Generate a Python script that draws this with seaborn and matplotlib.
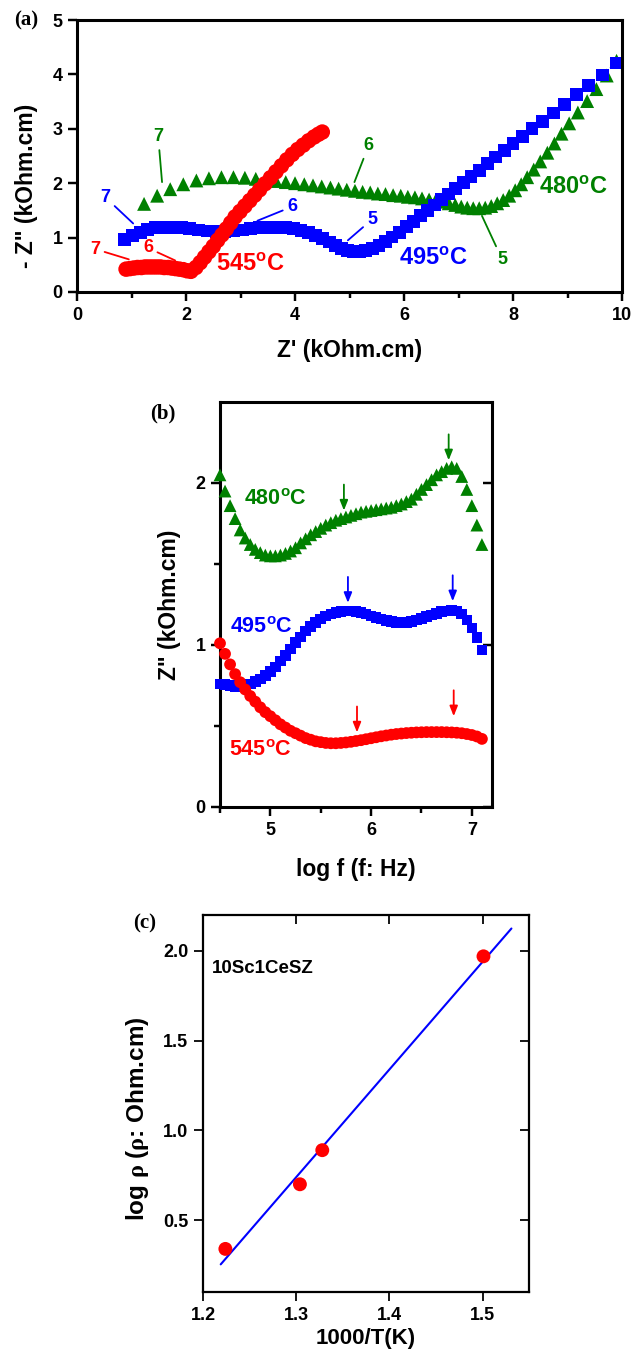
import numpy as np
import pandas as pd
import matplotlib
matplotlib.use("Agg")
import matplotlib.pyplot as plt
from matplotlib.ticker import MultipleLocator, FixedLocator
import seaborn as sns

# ---------------- data ----------------
# (a) Nyquist plots: Z' and -Z'' (kOhm.cm)
z1_480 = [1.23, 1.47, 1.71, 1.95, 2.19, 2.42, 2.65, 2.87, 3.08, 3.28, 3.47, 3.65, 3.83, 4.00,
          4.17, 4.33, 4.49, 4.65, 4.80, 4.95, 5.10, 5.24, 5.38, 5.52, 5.66, 5.80, 5.94, 6.07,
          6.20, 6.33, 6.46, 6.58, 6.70, 6.82, 6.94, 7.05, 7.16, 7.27, 7.38, 7.49, 7.60, 7.71,
          7.82, 7.93, 8.04, 8.15, 8.26, 8.38, 8.50, 8.63, 8.76, 8.89, 9.03, 9.19, 9.36, 9.53,
          9.72, 9.90]
z2_480 = [1.62, 1.77, 1.89, 1.98, 2.05, 2.09, 2.11, 2.11, 2.10, 2.08, 2.06, 2.04, 2.02, 2.00,
          1.98, 1.96, 1.94, 1.92, 1.90, 1.88, 1.86, 1.84, 1.83, 1.81, 1.80, 1.78, 1.77, 1.75,
          1.74, 1.72, 1.70, 1.68, 1.66, 1.63, 1.60, 1.57, 1.55, 1.54, 1.54, 1.55, 1.58, 1.63,
          1.69, 1.77, 1.87, 1.98, 2.11, 2.25, 2.40, 2.56, 2.73, 2.91, 3.10, 3.30, 3.51, 3.73,
          3.98, 4.25]

z1_495 = [0.87, 1.02, 1.16, 1.30, 1.44, 1.59, 1.75, 1.91, 2.07, 2.23, 2.39, 2.55, 2.71, 2.87,
          3.03, 3.19, 3.35, 3.51, 3.67, 3.82, 3.97, 4.11, 4.25, 4.38, 4.51, 4.63, 4.75, 4.86,
          4.97, 5.08, 5.19, 5.30, 5.42, 5.54, 5.66, 5.78, 5.91, 6.04, 6.17, 6.30, 6.43, 6.56,
          6.69, 6.82, 6.95, 7.09, 7.23, 7.38, 7.53, 7.68, 7.84, 8.00, 8.17, 8.35, 8.54, 8.74,
          8.94, 9.16, 9.39, 9.64, 9.89]
z2_495 = [0.97, 1.04, 1.10, 1.15, 1.18, 1.19, 1.19, 1.18, 1.16, 1.14, 1.12, 1.11, 1.11, 1.12,
          1.14, 1.16, 1.18, 1.19, 1.19, 1.18, 1.16, 1.13, 1.09, 1.04, 0.98, 0.92, 0.86, 0.80,
          0.76, 0.74, 0.74, 0.76, 0.80, 0.86, 0.93, 1.01, 1.10, 1.20, 1.30, 1.40, 1.50, 1.60,
          1.70, 1.80, 1.90, 2.01, 2.12, 2.24, 2.36, 2.48, 2.60, 2.73, 2.86, 3.00, 3.14, 3.29,
          3.45, 3.63, 3.80, 3.99, 4.21]

z1_545 = [0.90, 0.97, 1.04, 1.11, 1.18, 1.25, 1.32, 1.39, 1.46, 1.53, 1.60, 1.67, 1.74, 1.81,
          1.88, 1.95, 2.02, 2.09, 2.18, 2.26, 2.34, 2.42, 2.50, 2.58, 2.66, 2.74, 2.82, 2.90,
          2.99, 3.08, 3.17, 3.26, 3.35, 3.45, 3.55, 3.65, 3.75, 3.85, 3.95, 4.05, 4.15, 4.25,
          4.35, 4.43, 4.50]
z2_545 = [0.42, 0.43, 0.44, 0.45, 0.45, 0.46, 0.46, 0.46, 0.46, 0.46, 0.45, 0.45, 0.44, 0.43,
          0.42, 0.41, 0.39, 0.38, 0.45, 0.54, 0.64, 0.74, 0.84, 0.95, 1.05, 1.16, 1.27, 1.38,
          1.48, 1.58, 1.68, 1.78, 1.88, 1.99, 2.10, 2.21, 2.32, 2.43, 2.53, 2.62, 2.70, 2.78,
          2.85, 2.90, 2.94]

# (b) Bode plots: log f and Z'' (kOhm.cm)
logf = [4.50, 4.55, 4.60, 4.65, 4.70, 4.75, 4.80, 4.85, 4.90, 4.95, 5.00, 5.05, 5.10, 5.15,
        5.20, 5.25, 5.30, 5.35, 5.40, 5.45, 5.50, 5.55, 5.60, 5.65, 5.70, 5.75, 5.80, 5.85,
        5.90, 5.95, 6.00, 6.05, 6.10, 6.15, 6.20, 6.25, 6.30, 6.35, 6.40, 6.45, 6.50, 6.55,
        6.60, 6.65, 6.70, 6.75, 6.80, 6.85, 6.90, 6.95, 7.00, 7.05, 7.10]
zb_480 = [2.05, 1.95, 1.86, 1.78, 1.71, 1.66, 1.62, 1.59, 1.57, 1.555, 1.55, 1.55, 1.555, 1.565,
          1.58, 1.60, 1.63, 1.655, 1.68, 1.70, 1.72, 1.74, 1.755, 1.77, 1.78, 1.79, 1.80, 1.81,
          1.82, 1.825, 1.83, 1.835, 1.84, 1.845, 1.85, 1.86, 1.87, 1.885, 1.90, 1.93, 1.96, 1.99,
          2.02, 2.05, 2.07, 2.09, 2.10, 2.09, 2.04, 1.96, 1.86, 1.74, 1.62]
zb_495 = [0.76, 0.755, 0.75, 0.745, 0.745, 0.75, 0.76, 0.775, 0.79, 0.81, 0.835, 0.865, 0.90,
          0.935, 0.975, 1.015, 1.05, 1.085, 1.115, 1.14, 1.16, 1.18, 1.19, 1.20, 1.205, 1.21,
          1.21, 1.205, 1.20, 1.19, 1.18, 1.17, 1.16, 1.15, 1.145, 1.14, 1.14, 1.14, 1.145, 1.155,
          1.165, 1.175, 1.185, 1.195, 1.205, 1.21, 1.215, 1.21, 1.19, 1.155, 1.105, 1.045, 0.97]
zb_545 = [1.01, 0.945, 0.88, 0.82, 0.77, 0.725, 0.685, 0.65, 0.615, 0.585, 0.56, 0.535, 0.51,
          0.49, 0.47, 0.455, 0.44, 0.425, 0.415, 0.405, 0.40, 0.395, 0.393, 0.393, 0.395, 0.398,
          0.402, 0.407, 0.412, 0.418, 0.424, 0.43, 0.436, 0.441, 0.446, 0.45, 0.453, 0.456, 0.458,
          0.46, 0.461, 0.462, 0.462, 0.462, 0.462, 0.461, 0.46, 0.458, 0.455, 0.45, 0.444, 0.435,
          0.42]

# relaxation peak positions (log f, Z'') marked with arrows
peaks_480 = [(5.73, 1.82), (6.77, 2.13)]
peaks_495 = [(5.77, 1.25), (6.81, 1.26)]
peaks_545 = [(5.86, 0.45), (6.82, 0.55)]

# (c) Arrhenius plot
inv_T = [1.224, 1.304, 1.328, 1.501]
log_rho = [0.34, 0.70, 0.89, 1.97]
fit_range = [1.219, 1.531]

temps = ["480", "495", "545"]
colors = {"480": "#008000", "495": "#0000ff", "545": "#ff0000"}
markers = {"480": "^", "495": "s", "545": "o"}

# ---------------- style ----------------
sns.set_theme(style="ticks")
plt.rcParams.update({
    "font.family": ["Liberation Sans", "DejaVu Sans"],
    "font.weight": "bold",
    "axes.labelweight": "bold",
    "mathtext.fontset": "custom",
    "mathtext.rm": "Liberation Serif",
    "mathtext.bf": "Liberation Sans:bold",
    "mathtext.it": "Liberation Sans:italic",
    "axes.edgecolor": "black",
    "xtick.color": "black",
    "ytick.color": "black",
    "axes.labelcolor": "black",
    "text.color": "black",
})

fig = plt.figure(figsize=(6.34, 13.53), dpi=100)
ax_a = fig.add_axes([0.1215, 0.7842, 0.8596, 0.2010])
ax_b = fig.add_axes([0.347, 0.4036, 0.429, 0.2993])
ax_c = fig.add_axes([0.3202, 0.0451, 0.5144, 0.2786])

LABEL_FS = 16.5


def style_axes(ax, lw, fs):
    for sp in ax.spines.values():
        sp.set_linewidth(lw)
        sp.set_visible(True)
    ax.tick_params(axis="both", which="major", direction="out", length=6.5, width=lw * 0.8,
                   labelsize=fs, top=False, right=False, pad=4, labelcolor="black")
    ax.tick_params(axis="both", which="minor", direction="out", length=4.5, width=lw * 0.8,
                   top=False, right=False)
    for lab in ax.get_xticklabels() + ax.get_yticklabels():
        lab.set_fontweight("bold")


def deg(t):
    return t + r"$^{\mathbf{o}}$C"


# ---------------- (a) Nyquist ----------------
nyq = {"480": (z1_480, z2_480, 100), "495": (z1_495, z2_495, 85), "545": (z1_545, z2_545, 125)}
for t in ["480", "495", "545"]:
    zr, zi, s = nyq[t]
    df = pd.DataFrame({"Zr": zr, "Zi": zi})
    sns.scatterplot(data=df, x="Zr", y="Zi", ax=ax_a, marker=markers[t], color=colors[t],
                    s=s, edgecolor="none", linewidth=0, legend=False)
ax_a.set_xlim(0, 10)
ax_a.set_ylim(0, 5)
ax_a.xaxis.set_major_locator(MultipleLocator(2))
ax_a.xaxis.set_minor_locator(MultipleLocator(1))
ax_a.yaxis.set_major_locator(MultipleLocator(1))
ax_a.set_xlabel("Z' (kOhm.cm)", fontsize=LABEL_FS, fontweight="bold", labelpad=11)
ax_a.set_ylabel('- Z" (kOhm.cm)', fontsize=LABEL_FS, fontweight="bold", labelpad=8)
ax_a.yaxis.set_label_coords(-0.071, 0.39)
style_axes(ax_a, 2.2, 13)

line_kw = dict(arrowstyle="-", lw=1.3, shrinkA=1, shrinkB=0)
a_labels = [
    ("7", (1.49, 2.85), (1.56, 2.02), "480"),
    ("6", (5.35, 2.69), (5.09, 2.02), "480"),
    ("5", (7.80, 0.60), (7.43, 1.40), "480"),
    ("7", (0.52, 1.74), (1.03, 1.26), "495"),
    ("6", (3.95, 1.57), (3.31, 1.31), "495"),
    ("5", (5.42, 1.34), (4.97, 0.95), "495"),
    ("7", (0.33, 0.79), (0.95, 0.60), "545"),
    ("6", (1.30, 0.81), (1.80, 0.58), "545"),
]
for txt, pos, tip, t in a_labels:
    ax_a.annotate(txt, xy=tip, xytext=pos, ha="center", va="center", fontsize=13,
                  color=colors[t], fontweight="bold",
                  arrowprops=dict(color=colors[t], **line_kw))
ax_a.text(2.55, 0.50, deg("545"), color=colors["545"], fontsize=17, fontweight="bold",
          va="center", ha="left")
ax_a.text(5.90, 0.62, deg("495"), color=colors["495"], fontsize=17, fontweight="bold",
          va="center", ha="left")
ax_a.text(8.48, 1.92, deg("480"), color=colors["480"], fontsize=17, fontweight="bold",
          va="center", ha="left")
fig.text(14 / 634, 1 - 20 / 1353, "(a)", fontsize=15, fontweight="bold",
         family="Liberation Serif", va="center", ha="left")

# ---------------- (b) Bode ----------------
bode = {"480": (zb_480, 85), "495": (zb_495, 58), "545": (zb_545, 72)}
for t in ["480", "495", "545"]:
    zi, s = bode[t]
    df = pd.DataFrame({"logf": logf, "Zi": zi})
    sns.scatterplot(data=df, x="logf", y="Zi", ax=ax_b, marker=markers[t], color=colors[t],
                    s=s, edgecolor="none", linewidth=0, legend=False, clip_on=False, zorder=3)
ax_b.set_xlim(4.5, 7.2)
ax_b.set_ylim(0, 2.5)
ax_b.xaxis.set_major_locator(FixedLocator([5, 6, 7]))
ax_b.xaxis.set_minor_locator(FixedLocator([4.5, 5.5, 6.5]))
ax_b.yaxis.set_major_locator(FixedLocator([0, 1, 2]))
ax_b.yaxis.set_minor_locator(FixedLocator([0.5, 1.5]))
ax_b.set_xlabel("log f (f: Hz)", fontsize=LABEL_FS, fontweight="bold", labelpad=14)
ax_b.set_ylabel('Z" (kOhm.cm)', fontsize=LABEL_FS, fontweight="bold", labelpad=10)
style_axes(ax_b, 2.2, 13)
ax_b.tick_params(axis="y", which="major", right=True)
for tk in ax_b.yaxis.get_major_ticks():
    tk.tick2line.set_marker(matplotlib.lines.TICKLEFT)

peaks = {"480": peaks_480, "495": peaks_495, "545": peaks_545}
for t in temps:
    for x, y in peaks[t]:
        ax_b.annotate("", xy=(x, y + 0.01), xytext=(x, y + 0.17),
                      arrowprops=dict(arrowstyle="-|>,head_length=0.5,head_width=0.2",
                                      color=colors[t], lw=1.3, shrinkA=0, shrinkB=0))
ax_b.text(4.74, 1.90, deg("480"), color=colors["480"], fontsize=15.5, fontweight="bold",
          va="center", ha="left")
ax_b.text(4.60, 1.11, deg("495"), color=colors["495"], fontsize=15.5, fontweight="bold",
          va="center", ha="left")
ax_b.text(4.59, 0.35, deg("545"), color=colors["545"], fontsize=15.5, fontweight="bold",
          va="center", ha="left")
fig.text(150 / 634, 1 - 413 / 1353, "(b)", fontsize=15, fontweight="bold",
         family="Liberation Serif", va="center", ha="left")

# ---------------- (c) Arrhenius ----------------
slope, icpt = np.polyfit(inv_T, log_rho, 1)
fit_df = pd.DataFrame({"x": fit_range, "y": [slope * v + icpt for v in fit_range]})
sns.lineplot(data=fit_df, x="x", y="y", ax=ax_c, color="#0000ff", lw=1.5, zorder=2)
pts = pd.DataFrame({"x": inv_T, "y": log_rho})
sns.scatterplot(data=pts, x="x", y="y", ax=ax_c, color="#ff0000", s=100, edgecolor="none",
                linewidth=0, legend=False, zorder=3)
ax_c.set_xlim(1.2, 1.55)
ax_c.set_ylim(0.1, 2.2)
ax_c.xaxis.set_major_locator(FixedLocator([1.2, 1.3, 1.4, 1.5]))
ax_c.yaxis.set_major_locator(FixedLocator([0.5, 1.0, 1.5, 2.0]))
ax_c.set_xticklabels(["1.2", "1.3", "1.4", "1.5"])
ax_c.set_yticklabels(["0.5", "1.0", "1.5", "2.0"])
ax_c.set_xlabel("1000/T(K)", fontsize=16, fontweight="bold", labelpad=3)
ax_c.set_ylabel(r"log $\mathrm{\rho}$ ($\mathrm{\rho}$: Ohm.cm)", fontsize=17.5,
                fontweight="bold", labelpad=6)
ax_c.yaxis.set_label_coords(-0.16, 0.46)
style_axes(ax_c, 1.6, 13)
ax_c.tick_params(axis="both", which="major", top=True, right=True)
for tk in ax_c.xaxis.get_major_ticks():
    tk.tick2line.set_marker(matplotlib.lines.TICKDOWN)
for tk in ax_c.yaxis.get_major_ticks():
    tk.tick2line.set_marker(matplotlib.lines.TICKLEFT)
ax_c.text(1.209, 1.90, "10Sc1CeSZ", fontsize=13.5, fontweight="bold", va="center", ha="left")
fig.text(133 / 634, 1 - 923 / 1353, "(c)", fontsize=15, fontweight="bold",
         family="Liberation Serif", va="center", ha="left")

fig.savefig("out.png", dpi=100)
